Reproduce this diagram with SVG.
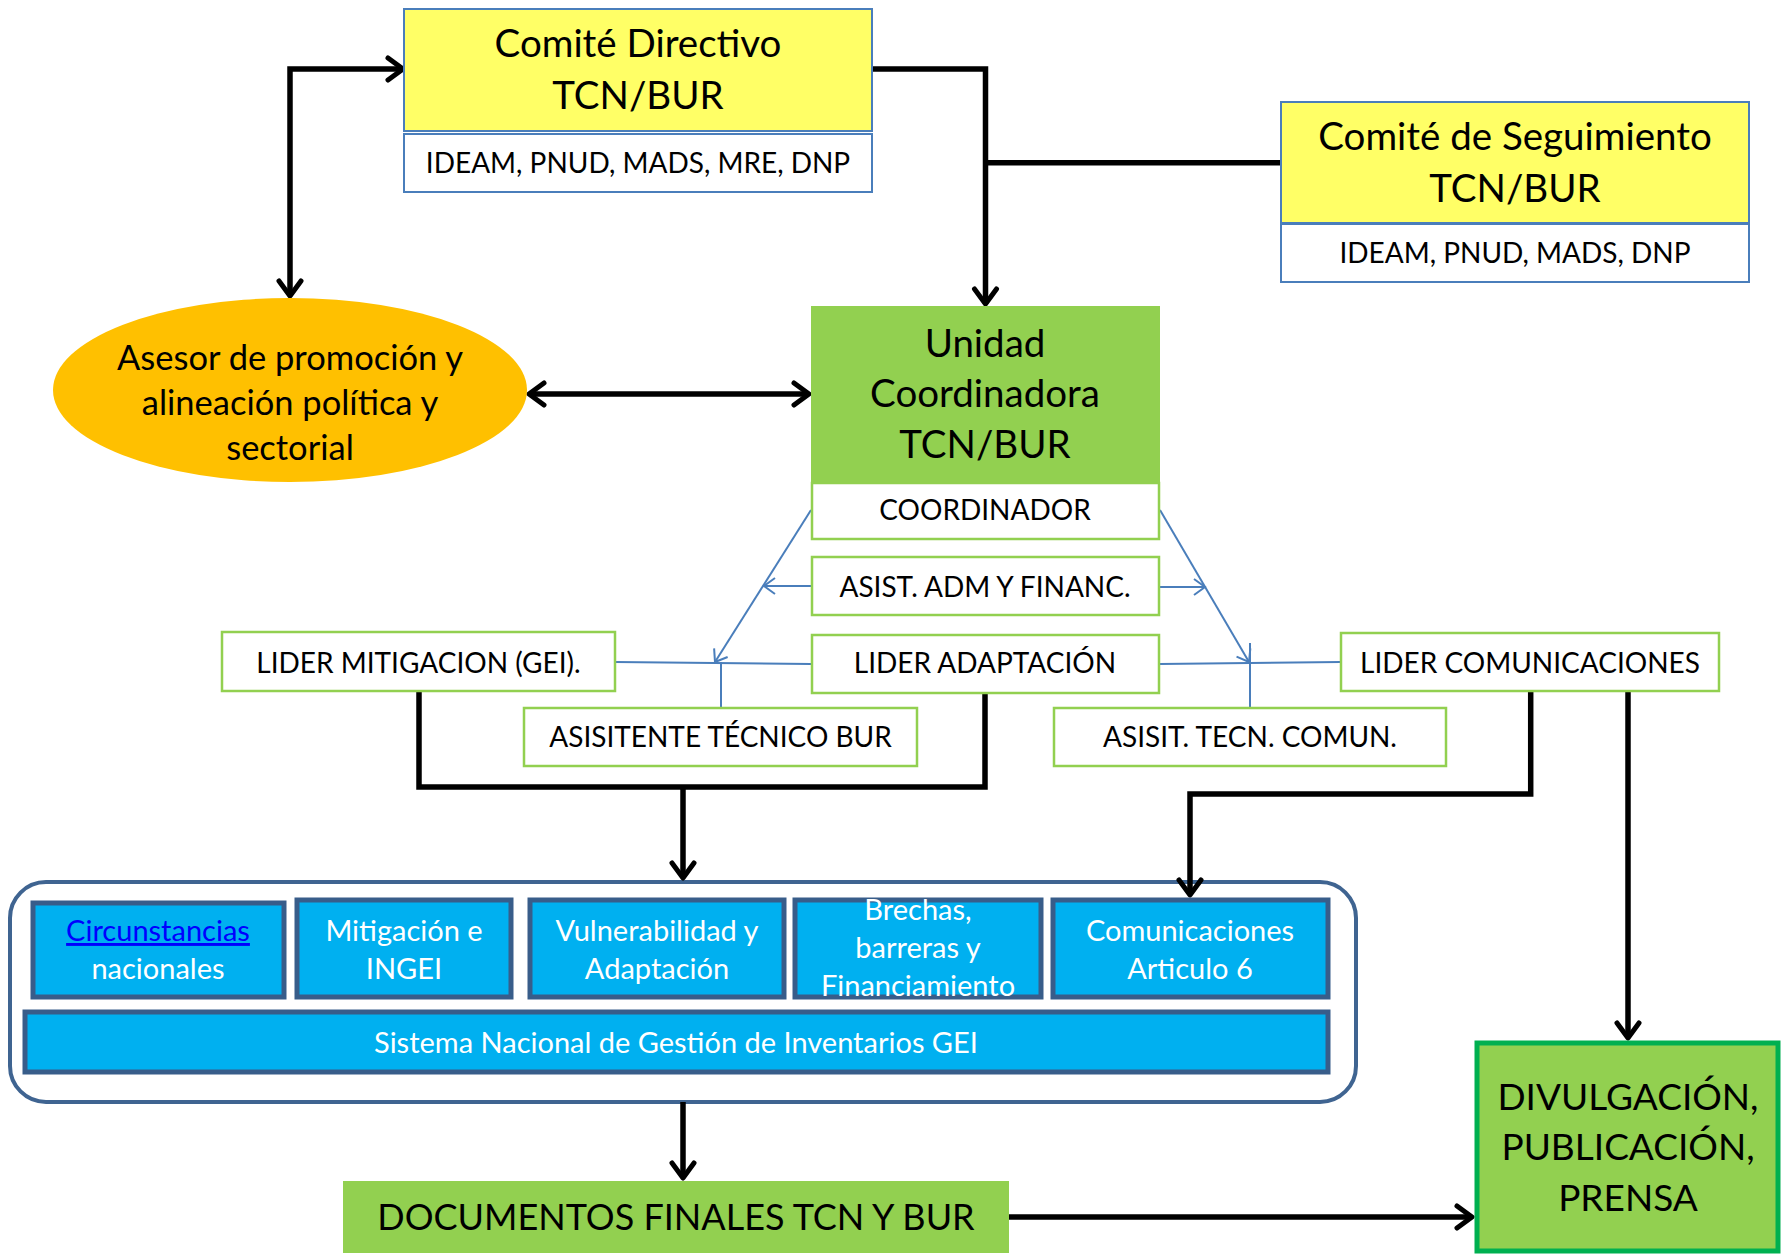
<svg xmlns="http://www.w3.org/2000/svg" width="1787" height="1260" viewBox="0 0 1787 1260">
<defs>
<style>
text{font-family:Lato,"Open Sans","DejaVu Sans",sans-serif;text-anchor:middle;fill:#000}
.big{font-size:38.5px}
.doc{font-size:36px}
.mid{font-size:34.5px}
.sm{font-size:28px}
.bl{font-size:29px;fill:#fff}
.yel{fill:#FFFF66;stroke:#4A7EBB;stroke-width:2}
.wb{fill:#fff;stroke:#4A7EBB;stroke-width:2}
.wg{fill:#fff;stroke:#92D050;stroke-width:2.5}
.gr{fill:#92D050}
.bx{fill:#00B0F0;stroke:#385D8A;stroke-width:5}
.k{fill:none;stroke:#000;stroke-width:5.5;stroke-linejoin:miter}
.b{fill:none;stroke:#4A7EBB;stroke-width:2}
</style>
<marker id="ak" markerUnits="userSpaceOnUse" viewBox="-20 -14 24 28" refX="0" refY="0" markerWidth="24" markerHeight="28" orient="auto-start-reverse" overflow="visible">
<path d="M-15,-11 L0,0 L-15,11" fill="none" stroke="#000" stroke-width="5" stroke-linecap="round" stroke-linejoin="round"/>
</marker>
<marker id="ab" markerUnits="userSpaceOnUse" viewBox="-14 -10 16 20" refX="0" refY="0" markerWidth="16" markerHeight="20" orient="auto" overflow="visible">
<path d="M-11,-8 L0,0 L-11,8" fill="none" stroke="#4A7EBB" stroke-width="2"/>
</marker>
</defs>

<g id="contenedor">
<rect x="10" y="882" width="1346" height="220" rx="36" fill="#fff" stroke="#3F6491" stroke-width="4"/>
</g>

<g id="connectors">
<path class="k" d="M403,69 H290 V296" marker-start="url(#ak)" marker-end="url(#ak)"/>
<path class="k" d="M529,394 H809" marker-start="url(#ak)" marker-end="url(#ak)"/>
<path class="k" d="M872,69 H985.5 V304" marker-end="url(#ak)"/>
<path class="k" d="M1280,162.7 H985.5"/>
<path class="k" d="M419,691 V787 H985 V693"/>
<path class="k" d="M683,787 V878" marker-end="url(#ak)"/>
<path class="k" d="M1530.7,691 V794 H1190 V895" marker-end="url(#ak)"/>
<path class="k" d="M1628,685 V1038" marker-end="url(#ak)"/>
<path class="k" d="M683,1102 V1178" marker-end="url(#ak)"/>
<path class="k" d="M1009,1217 H1472" marker-end="url(#ak)"/>
<path class="b" d="M811,510 L715,662" marker-end="url(#ab)"/>
<path class="b" d="M811,586 H764" marker-end="url(#ab)"/>
<path class="b" d="M615,662 L811,664"/>
<path class="b" d="M721,662 V708"/>
<path class="b" d="M1160,510 L1249,662" marker-end="url(#ab)"/>
<path class="b" d="M1160,587 H1205" marker-end="url(#ab)"/>
<path class="b" d="M1160,664 L1341,662"/>
<path class="b" d="M1250,643 V708"/>
</g>

<g id="comite-directivo">
<rect class="yel" x="404" y="9" width="468" height="122"/>
<text class="big" x="638" y="57">Comité Directivo</text>
<text class="big" x="638" y="109">TCN/BUR</text>
<rect class="wb" x="404" y="134" width="468" height="58"/>
<text class="sm" x="638" y="173">IDEAM, PNUD, MADS, MRE, DNP</text>
</g>

<g id="comite-seguimiento">
<rect class="yel" x="1281" y="102" width="468" height="121"/>
<text class="big" x="1515" y="150">Comité de Seguimiento</text>
<text class="big" x="1515" y="202">TCN/BUR</text>
<rect class="wb" x="1281" y="224" width="468" height="58"/>
<text class="sm" x="1515" y="263">IDEAM, PNUD, MADS, DNP</text>
</g>

<g id="asesor">
<ellipse cx="290" cy="390" rx="237" ry="92" fill="#FFC000"/>
<text class="mid" x="290" y="370">Asesor de promoción y</text>
<text class="mid" x="290" y="415">alineación política y</text>
<text class="mid" x="290" y="460">sectorial</text>
</g>

<g id="unidad">
<rect class="gr" x="811" y="306" width="349" height="176"/>
<text class="big" x="985" y="357">Unidad</text>
<text class="big" x="985" y="407">Coordinadora</text>
<text class="big" x="985" y="458">TCN/BUR</text>
</g>

<g id="coordinador">
<rect class="wg" x="812" y="483" width="347" height="56"/>
<text class="sm" x="985" y="520">COORDINADOR</text>
</g>
<g id="asist-adm">
<rect class="wg" x="812" y="557" width="347" height="58"/>
<text class="sm" x="985" y="597">ASIST. ADM Y FINANC.</text>
</g>
<g id="lider-adaptacion">
<rect class="wg" x="812" y="635" width="347" height="58"/>
<text class="sm" x="985" y="673">LIDER ADAPTACIÓN</text>
</g>
<g id="lider-mitigacion">
<rect class="wg" x="222" y="632" width="393" height="59"/>
<text class="sm" x="418.5" y="673">LIDER MITIGACION (GEI).</text>
</g>
<g id="asistente-tecnico">
<rect class="wg" x="524" y="708" width="393" height="58"/>
<text class="sm" x="720.5" y="747">ASISITENTE TÉCNICO BUR</text>
</g>
<g id="lider-comunicaciones">
<rect class="wg" x="1341" y="633" width="378" height="58"/>
<text class="sm" x="1530" y="673">LIDER COMUNICACIONES</text>
</g>
<g id="asisit-tecn">
<rect class="wg" x="1054" y="708" width="392" height="58"/>
<text class="sm" x="1250" y="747">ASISIT. TECN. COMUN.</text>
</g>

<g id="circunstancias">
<rect class="bx" x="33" y="903" width="251" height="94"/>
<text class="bl" x="158" y="941" style="fill:#0000FF;text-decoration:underline">Circunstancias</text>
<text class="bl" x="158" y="979">nacionales</text>
</g>
<g id="mitigacion">
<rect class="bx" x="297" y="900" width="214" height="97"/>
<text class="bl" x="404" y="941">Mitigación e</text>
<text class="bl" x="404" y="979">INGEI</text>
</g>
<g id="vulnerabilidad">
<rect class="bx" x="530" y="900" width="254" height="97"/>
<text class="bl" x="657" y="941">Vulnerabilidad y</text>
<text class="bl" x="657" y="979">Adaptación</text>
</g>
<g id="brechas">
<rect class="bx" x="795" y="900" width="246" height="97"/>
<text class="bl" x="918" y="920">Brechas,</text>
<text class="bl" x="918" y="958">barreras y</text>
<text class="bl" x="918" y="996">Financiamiento</text>
</g>
<g id="comunicaciones">
<rect class="bx" x="1053" y="900" width="275" height="97"/>
<text class="bl" x="1190" y="941">Comunicaciones</text>
<text class="bl" x="1190" y="979">Articulo 6</text>
</g>
<g id="sistema">
<rect class="bx" x="25" y="1012" width="1303" height="60"/>
<text class="bl" x="676" y="1053">Sistema Nacional de Gestión de Inventarios GEI</text>
</g>

<g id="documentos">
<rect class="gr" x="343" y="1181" width="666" height="72"/>
<text class="doc" x="676" y="1230">DOCUMENTOS FINALES TCN Y BUR</text>
</g>

<g id="divulgacion">
<rect x="1477" y="1043" width="301" height="208" fill="#92D050" stroke="#00B050" stroke-width="5"/>
<text class="big" x="1628" y="1110" style="font-size:37px">DIVULGACIÓN,</text>
<text class="big" x="1628" y="1160" style="font-size:37px">PUBLICACIÓN,</text>
<text class="big" x="1628" y="1211" style="font-size:37px">PRENSA</text>
</g>
</svg>
